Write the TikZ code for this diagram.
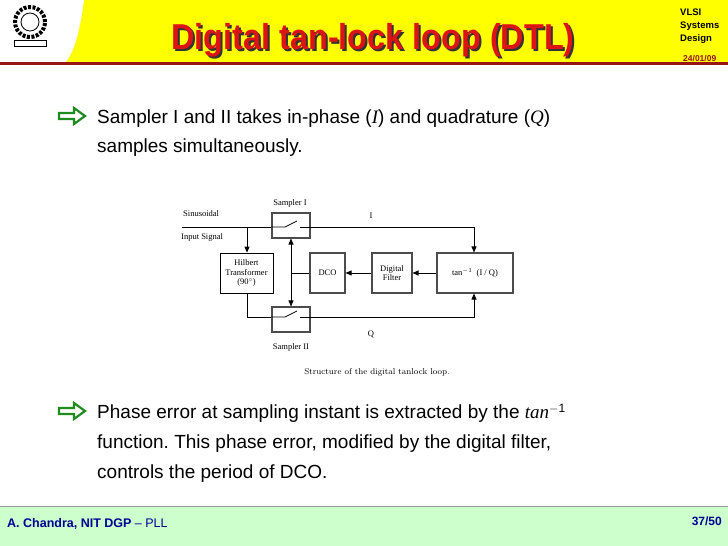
\documentclass[tikz,border=0pt]{standalone}
\usepackage{fontspec}
\setmainfont{Liberation Sans}
\newfontfamily\tms{Liberation Serif}
\newfontfamily\lmr{Latin Modern Roman}
\usetikzlibrary{arrows.meta}
\definecolor{ttl}{RGB}{220,20,20}
\definecolor{blu}{RGB}{0,0,150}
\definecolor{grn}{RGB}{30,140,30}
\definecolor{ylw}{RGB}{255,255,0}
\definecolor{drd}{RGB}{150,20,20}
\definecolor{ftg}{RGB}{204,255,204}
\frenchspacing
\begin{document}
\begin{tikzpicture}[x=1pt,y=-1pt,
  blk/.style={draw=black!70,line width=1.1pt,inner sep=0pt,align=center,font=\tms\fontsize{8.5}{9.5}\selectfont},
  lbl/.style={inner sep=0pt,font=\tms\fontsize{8.5}{10}\selectfont},
  wire/.style={line width=0.8pt},
  arr/.style={wire,-{Triangle[length=6pt,width=5pt]}},
  bul/.style={inner sep=0pt,anchor=base west,font=\fontsize{19}{22}\selectfont},
  barrow/.style={draw=grn,line width=2.2pt,line join=miter,fill=white},
  ttlf/.style={inner sep=0pt,font=\bfseries\fontsize{36}{36}\selectfont}]
\useasboundingbox (0,0) rectangle (728,546);
\fill[white] (0,0) rectangle (728,546);
% header
\fill[ylw] (0,0) rectangle (728,62);
\fill[white] (0,0) -- (84,0) .. controls (80,30) and (75,50) .. (66,62) -- (0,62) -- cycle;
\fill[drd] (0,62) rectangle (728,65);
% logo
\node[circle,draw=black,line width=4pt,minimum size=30pt,dash pattern=on 3pt off 1.5pt] (logo) at (30,22) {};
\node[circle,draw=black,line width=0.8pt,minimum size=18pt] (logoi) at (30,22) {};
\node[draw=black,fill=white,line width=0.6pt,minimum width=32pt,minimum height=6pt,inner sep=0pt] (logob) at (30,43) {};
\node[ttlf,text=black!80] (titles) at (375,42) {\scalebox{0.9}[1]{Digital tan-lock loop (DTL)}};
\node[ttlf,text=ttl] (title) at (373,40) {\scalebox{0.9}[1]{Digital tan-lock loop (DTL)}};
\node[inner sep=0pt,anchor=base west,font=\bfseries\fontsize{9.5}{12}\selectfont] (vlsi) at (680,15) {VLSI};
\node[inner sep=0pt,anchor=base west,font=\bfseries\fontsize{9.5}{12}\selectfont] (sys) at (680,28) {Systems};
\node[inner sep=0pt,anchor=base west,font=\bfseries\fontsize{9.5}{12}\selectfont] (des) at (680,41) {Design};
\node[inner sep=0pt,anchor=base west,text=drd,font=\bfseries\fontsize{8.5}{10}\selectfont] (date) at (683,61) {24/01/09};
% bullet arrows
\foreach \yy in {116,411}{
  \draw[barrow,shift={(0,\yy)}] (59,-3) -- (74,-3) -- (74,-8) -- (85,0) -- (74,8) -- (74,3) -- (59,3) -- cycle;
}
% bullet 1
\node[bul] (t1a) at (97,123) {Sampler I and II takes in-phase ({\tms\itshape I}) and quadrature ({\tms\itshape Q})};
\node[bul] (t1b) at (97,152) {samples simultaneously.};
% bullet 2
\node[bul] (t2a) at (97,418) {Phase error at sampling instant is extracted by the {\tms\itshape tan}\raisebox{6pt}{\fontsize{12}{12}\selectfont$-$1}};
\node[bul] (t2b) at (97,448) {function. This phase error, modified by the digital filter,};
\node[bul] (t2c) at (97,478) {controls the period of DCO.};
% diagram
\node[blk,minimum width=38pt,minimum height=25pt] (s1) at (291,225.5) {};
\node[blk,minimum width=38pt,minimum height=25pt] (s2) at (291,319.5) {};
\node[blk,line width=0.8pt,draw=black,minimum width=53pt,minimum height=40pt] (hil) at (246.5,273) {Hilbert\\Transformer\\(90$^{\circ}$)};
\node[blk,minimum width=35pt,minimum height=40pt] (dco) at (327.5,273) {DCO};
\node[blk,minimum width=40pt,minimum height=40pt] (flt) at (392,273) {Digital\\Filter};
\node[blk,minimum width=76pt,minimum height=40pt] (tan) at (475,273) {tan$^{-1}$\ \ (I / Q)};
\node[lbl] (ls1) at (290,203) {Sampler I};
\node[lbl] (ls2) at (291,347) {Sampler II};
\node[lbl,anchor=west] (lsin) at (183,214) {Sinusoidal};
\node[lbl,anchor=west] (lin) at (181,237) {Input Signal};
\node[lbl] (lI) at (371,216) {I};
\node[lbl] (lQ) at (371,334) {Q};
\node[inner sep=0pt,font=\lmr\fontsize{8.5}{10}\selectfont] (cap) at (377,372) {Structure of the digital tanlock loop.};
\coordinate (in) at (182,227);
\coordinate (hq) at (247,317);
% switches
\draw[wire] (s1.west|-in) -- (285,227) -- (297,221);
\draw[wire] (300,227) -- (s1.east|-in);
\draw[wire] (s2.west|-hq) -- (285,317) -- (297,311);
\draw[wire] (300,317) -- (s2.east|-hq);
% wires
\draw[wire] (in) -- (s1.west|-in);
\draw[arr] (247,227) -- (hil.north-|247,0);
\draw[arr] (s1.east|-in) -| (tan.north-|474,0);
\draw[wire] (hil.south-|247,0) -- (hq) -- (s2.west|-hq);
\draw[arr] (s2.east|-hq) -| (tan.south-|474,0);
\draw[arr] (tan.west) -- (flt.east);
\draw[arr] (flt.west) -- (dco.east);
\draw[wire] (dco.west) -- (291,273);
\draw[wire,{Triangle[length=6pt,width=5pt]}-{Triangle[length=6pt,width=5pt]}] (s1.south) -- (s2.north);
% footer
\fill[ftg] (0,506) rectangle (728,546);
\draw[black!40,line width=0.8pt] (0,506) -- (728,506);
\node[inner sep=0pt,anchor=base west,text=blu,font=\fontsize{12.5}{14}\selectfont] (auth) at (7,527) {\textbf{A. Chandra, NIT DGP} -- PLL};
\node[inner sep=0pt,anchor=base east,text=blu,font=\bfseries\fontsize{12}{14}\selectfont] (pg) at (722,525) {37/50};
\end{tikzpicture}
\end{document}
